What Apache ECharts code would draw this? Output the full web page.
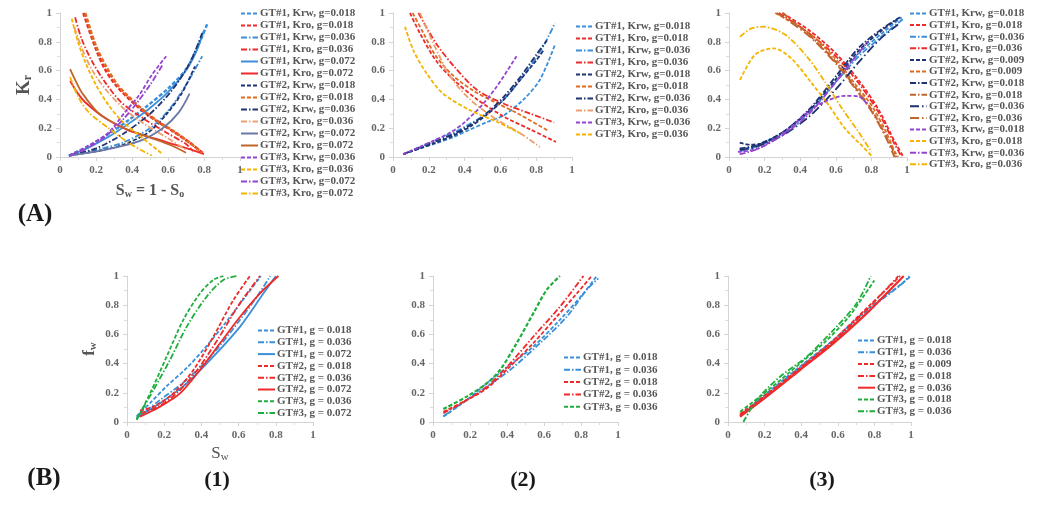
<!DOCTYPE html>
<html lang="en">
<head>
<meta charset="UTF-8">
<title>Kr and fw</title>
<script src="https://cdn.jsdelivr.net/npm/echarts@6.0.0/dist/echarts.min.js"></script>
<style>
  html, body { margin: 0; padding: 0; background: #fff; }
  #main { width: 1038px; height: 510px; }
</style>
</head>
<body>
<div id="main"></div>
<script>
// ---- data ----
var ticks = [0, 0.2, 0.4, 0.6, 0.8, 1];

// (A)(1) relative permeability, set 1
var a1Names = [
  'GT#1, Krw, g=0.018', 'GT#1, Kro, g=0.018', 'GT#1, Krw, g=0.036', 'GT#1, Kro, g=0.036',
  'GT#1, Krw, g=0.072', 'GT#1, Kro, g=0.072', 'GT#2, Krw, g=0.018', 'GT#2, Kro, g=0.018',
  'GT#2, Krw, g=0.036', 'GT#2, Kro, g=0.036', 'GT#2, Krw, g=0.072', 'GT#2, Kro, g=0.072',
  'GT#3, Krw, g=0.036', 'GT#3, Kro, g=0.036', 'GT#3, Krw, g=0.072', 'GT#3, Kro, g=0.072'
];
var a1Points = [
  [[0.05,0.01],[0.15,0.07],[0.27,0.16],[0.38,0.255],[0.49,0.36],[0.6,0.475],[0.7,0.61],[0.77,0.78],[0.82,0.93]],
  [[0.13,1.0],[0.2,0.75],[0.25,0.61],[0.31,0.5],[0.37,0.42],[0.44,0.34],[0.53,0.255],[0.62,0.185],[0.72,0.1],[0.8,0.02]],
  [[0.05,0.01],[0.2,0.05],[0.35,0.1],[0.5,0.2],[0.6,0.32],[0.7,0.5],[0.79,0.7]],
  [[0.084,0.97],[0.12,0.82],[0.18,0.66],[0.25,0.52],[0.34,0.38],[0.46,0.27],[0.59,0.17],[0.7,0.09],[0.74,0.04]],
  [[0.05,0.01],[0.15,0.06],[0.27,0.14],[0.38,0.23],[0.49,0.33],[0.6,0.45],[0.7,0.6],[0.76,0.74],[0.8,0.88]],
  [[0.056,0.53],[0.1,0.44],[0.14,0.38],[0.25,0.27],[0.38,0.185],[0.53,0.127],[0.68,0.07],[0.8,0.02]],
  [[0.05,0.01],[0.2,0.04],[0.34,0.08],[0.49,0.17],[0.6,0.31],[0.68,0.45],[0.75,0.63]],
  [[0.14,1.0],[0.2,0.77],[0.26,0.62],[0.32,0.5],[0.38,0.42],[0.45,0.34],[0.54,0.25],[0.63,0.18],[0.72,0.1],[0.79,0.03]],
  [[0.05,0.01],[0.2,0.06],[0.35,0.16],[0.5,0.3],[0.62,0.46],[0.72,0.65],[0.79,0.86]],
  [[0.08,0.9],[0.12,0.76],[0.18,0.6],[0.26,0.46],[0.36,0.33],[0.48,0.22],[0.6,0.13],[0.7,0.05]],
  [[0.05,0.01],[0.25,0.05],[0.44,0.11],[0.57,0.2],[0.66,0.31],[0.72,0.44]],
  [[0.056,0.61],[0.09,0.52],[0.12,0.45],[0.21,0.31],[0.34,0.21],[0.49,0.14],[0.62,0.08],[0.7,0.03]],
  [[0.05,0.01],[0.16,0.08],[0.27,0.17],[0.36,0.31],[0.44,0.43],[0.51,0.57],[0.59,0.7]],
  [[0.065,0.96],[0.1,0.8],[0.14,0.66],[0.2,0.5],[0.27,0.36],[0.34,0.255],[0.44,0.15],[0.51,0.08],[0.57,0.02]],
  [[0.05,0.01],[0.15,0.06],[0.25,0.14],[0.35,0.26],[0.43,0.38],[0.5,0.5],[0.57,0.64]],
  [[0.056,0.556],[0.1,0.42],[0.16,0.31],[0.27,0.2],[0.38,0.1],[0.47,0.035],[0.51,0.01]]
];

// (A)(2)
var a2Names = [
  'GT#1, Krw, g=0.018', 'GT#1, Kro, g=0.018', 'GT#1, Krw, g=0.036', 'GT#1, Kro, g=0.036',
  'GT#2, Krw, g=0.018', 'GT#2, Kro, g=0.018', 'GT#2, Krw, g=0.036', 'GT#2, Kro, g=0.036',
  'GT#3, Krw, g=0.036', 'GT#3, Kro, g=0.036'
];
var a2Points = [
  [[0.058,0.02],[0.15,0.06],[0.24,0.095],[0.34,0.14],[0.43,0.19],[0.52,0.24],[0.62,0.29],[0.73,0.4],[0.82,0.535],[0.905,0.78]],
  [[0.095,1.0],[0.15,0.86],[0.24,0.67],[0.34,0.535],[0.47,0.4],[0.62,0.28],[0.77,0.19],[0.91,0.105]],
  [[0.058,0.02],[0.15,0.07],[0.24,0.12],[0.34,0.17],[0.43,0.23],[0.52,0.3],[0.62,0.4],[0.75,0.6],[0.84,0.77],[0.905,0.93]],
  [[0.142,1.0],[0.24,0.79],[0.34,0.63],[0.47,0.465],[0.62,0.37],[0.77,0.3],[0.9,0.24]],
  [[0.058,0.02],[0.15,0.06],[0.24,0.1],[0.34,0.15],[0.43,0.21],[0.52,0.29],[0.62,0.4],[0.71,0.535],[0.8,0.67],[0.84,0.74]],
  [[0.11,1.0],[0.17,0.86],[0.24,0.7],[0.34,0.56],[0.45,0.46],[0.57,0.38],[0.7,0.3],[0.87,0.18]],
  [[0.058,0.02],[0.15,0.065],[0.24,0.11],[0.34,0.16],[0.43,0.22],[0.52,0.3],[0.62,0.42],[0.72,0.57],[0.8,0.71],[0.86,0.81]],
  [[0.151,1.0],[0.225,0.79],[0.32,0.56],[0.43,0.4],[0.58,0.26],[0.71,0.165],[0.82,0.07]],
  [[0.058,0.02],[0.15,0.07],[0.24,0.12],[0.32,0.17],[0.39,0.23],[0.45,0.3],[0.49,0.35],[0.58,0.49],[0.69,0.7]],
  [[0.067,0.905],[0.114,0.74],[0.188,0.58],[0.28,0.44],[0.43,0.325],[0.58,0.245],[0.71,0.165]]
];

// (A)(3)
var a3Names = [
  'GT#1, Krw, g=0.018', 'GT#1, Kro, g=0.018', 'GT#1, Krw, g=0.036', 'GT#1, Kro, g=0.036',
  'GT#2, Krw, g=0.009', 'GT#2, Kro, g=0.009', 'GT#2, Krw, g=0.018', 'GT#2, Kro, g=0.018',
  'GT#2, Krw, g=0.036', 'GT#2, Kro, g=0.036', 'GT#3, Krw, g=0.018', 'GT#3, Kro, g=0.018',
  'GT#3, Krw, g=0.036', 'GT#3, Kro, g=0.036'
];
var a3Points = [
  [[0.06,0.05],[0.15,0.08],[0.3,0.17],[0.45,0.32],[0.6,0.53],[0.73,0.72],[0.88,0.88],[0.97,0.97]],
  [[0.3,1.0],[0.45,0.88],[0.6,0.72],[0.73,0.53],[0.84,0.33],[0.93,0.11],[0.98,0.0]],
  [[0.06,0.04],[0.15,0.07],[0.3,0.16],[0.45,0.31],[0.6,0.52],[0.73,0.7],[0.88,0.86],[0.98,0.96]],
  [[0.28,1.0],[0.45,0.86],[0.6,0.7],[0.73,0.51],[0.84,0.31],[0.93,0.09],[0.97,0.0]],
  [[0.06,0.1],[0.12,0.085],[0.2,0.1],[0.3,0.17],[0.45,0.32],[0.6,0.54],[0.73,0.74],[0.86,0.88],[0.95,0.96]],
  [[0.26,1.0],[0.45,0.86],[0.6,0.68],[0.7,0.52],[0.8,0.36],[0.88,0.18],[0.93,0.04],[0.95,0.0]],
  [[0.06,0.06],[0.15,0.08],[0.3,0.17],[0.45,0.33],[0.6,0.56],[0.73,0.76],[0.86,0.89],[0.96,0.97]],
  [[0.3,1.0],[0.45,0.85],[0.6,0.66],[0.7,0.5],[0.8,0.33],[0.88,0.15],[0.94,0.0]],
  [[0.06,0.05],[0.15,0.07],[0.3,0.15],[0.45,0.28],[0.6,0.47],[0.73,0.66],[0.85,0.82],[0.95,0.92]],
  [[0.27,1.0],[0.45,0.84],[0.6,0.65],[0.7,0.49],[0.8,0.32],[0.88,0.14],[0.93,0.0]],
  [[0.05,0.035],[0.165,0.06],[0.315,0.175],[0.446,0.315],[0.54,0.385],[0.65,0.425],[0.73,0.42],[0.78,0.36]],
  [[0.062,0.535],[0.146,0.71],[0.25,0.755],[0.35,0.685],[0.46,0.52],[0.56,0.36],[0.65,0.2],[0.745,0.08],[0.8,0.01]],
  [[0.06,0.02],[0.15,0.05],[0.3,0.15],[0.45,0.3],[0.6,0.52],[0.7,0.68],[0.78,0.8]],
  [[0.062,0.835],[0.12,0.89],[0.19,0.905],[0.315,0.85],[0.446,0.685],[0.54,0.52],[0.633,0.34],[0.727,0.175],[0.8,0.035]]
];

// (B)(1) fractional flow
var b1Names = [
  'GT#1, g = 0.018', 'GT#1, g = 0.036', 'GT#1, g = 0.072', 'GT#2, g = 0.018',
  'GT#2, g = 0.036', 'GT#2, g = 0.072', 'GT#3, g = 0.036', 'GT#3, g = 0.072'
];
var b1Points = [
  [[0.052,0.04],[0.124,0.13],[0.213,0.245],[0.321,0.37],[0.428,0.52],[0.536,0.69],[0.643,0.87],[0.72,1.0]],
  [[0.052,0.03],[0.177,0.15],[0.321,0.29],[0.464,0.47],[0.608,0.7],[0.71,0.88],[0.77,1.0]],
  [[0.052,0.03],[0.177,0.128],[0.321,0.265],[0.464,0.447],[0.608,0.653],[0.733,0.88],[0.8,1.0]],
  [[0.07,0.08],[0.142,0.105],[0.249,0.196],[0.357,0.356],[0.464,0.584],[0.572,0.836],[0.661,1.0]],
  [[0.07,0.06],[0.16,0.1],[0.27,0.2],[0.38,0.36],[0.49,0.57],[0.6,0.8],[0.715,1.0]],
  [[0.07,0.037],[0.177,0.105],[0.285,0.196],[0.392,0.356],[0.5,0.539],[0.608,0.721],[0.715,0.881],[0.814,1.0]],
  [[0.052,0.014],[0.124,0.196],[0.213,0.447],[0.303,0.7],[0.392,0.88],[0.464,0.973],[0.518,1.0]],
  [[0.052,0.02],[0.142,0.219],[0.231,0.425],[0.321,0.653],[0.428,0.858],[0.518,0.973],[0.59,1.0]]
];

// (B)(2)
var b2Names = ['GT#1, g = 0.018', 'GT#1, g = 0.036', 'GT#2, g = 0.018', 'GT#2, g = 0.036', 'GT#3, g = 0.036'];
var b2Points = [
  [[0.056,0.037],[0.182,0.15],[0.29,0.265],[0.416,0.39],[0.542,0.516],[0.686,0.7],[0.813,0.88],[0.885,1.0]],
  [[0.056,0.04],[0.182,0.15],[0.29,0.24],[0.416,0.356],[0.578,0.539],[0.723,0.721],[0.83,0.904],[0.894,0.984]],
  [[0.056,0.07],[0.182,0.15],[0.29,0.23],[0.416,0.38],[0.542,0.54],[0.668,0.72],[0.777,0.88],[0.858,1.0]],
  [[0.056,0.06],[0.182,0.15],[0.29,0.24],[0.416,0.4],[0.542,0.584],[0.686,0.79],[0.813,1.0]],
  [[0.056,0.089],[0.182,0.174],[0.29,0.265],[0.362,0.356],[0.452,0.539],[0.542,0.744],[0.614,0.904],[0.686,1.0]]
];

// (B)(3)
var b3Names = [
  'GT#1, g = 0.018', 'GT#1, g = 0.036', 'GT#2, g = 0.009', 'GT#2, g = 0.018',
  'GT#2, g = 0.036', 'GT#3, g = 0.018', 'GT#3, g = 0.036'
];
var b3Points = [
  [[0.066,0.037],[0.211,0.196],[0.393,0.379],[0.576,0.562],[0.758,0.767],[0.94,0.938],[1.0,1.0]],
  [[0.066,0.04],[0.211,0.19],[0.393,0.375],[0.576,0.555],[0.758,0.76],[0.94,0.935],[0.99,1.0]],
  [[0.066,0.055],[0.211,0.19],[0.393,0.37],[0.576,0.56],[0.758,0.78],[0.9,0.95],[0.94,1.0]],
  [[0.066,0.05],[0.211,0.18],[0.393,0.36],[0.576,0.55],[0.758,0.77],[0.88,0.93],[0.93,1.0]],
  [[0.066,0.037],[0.211,0.174],[0.393,0.356],[0.576,0.539],[0.758,0.744],[0.885,0.904],[0.96,1.0]],
  [[0.066,0.07],[0.211,0.21],[0.393,0.4],[0.54,0.56],[0.66,0.72],[0.74,0.86],[0.8,0.97]],
  [[0.084,0.0],[0.157,0.151],[0.284,0.31],[0.43,0.447],[0.576,0.63],[0.703,0.813],[0.78,1.0]]
];

// ---- styles ----
var C = {
  blue: '#3a8fd9', red: '#ee2a2a', navy: '#1f3372', orange: '#e06a22', peach: '#eba070',
  brown: '#c0652c', slate: '#6a78a8', purple: '#9444d0', yellow: '#f5b400', green: '#1fae3e'
};
var DASH = [4, 2], DOT = [6, 2, 1.5, 2], LONG = [9, 3, 1.5, 3], SOLID = 'solid';

var a1Styles = [
  [C.blue, DASH, 2.4], [C.red, DASH, 2.6], [C.blue, DOT, 1.8], [C.red, DOT, 1.8],
  [C.blue, SOLID, 1.8], [C.red, SOLID, 1.8], [C.navy, DASH, 1.8], [C.orange, DASH, 2.6],
  [C.navy, DOT, 1.8], [C.peach, DOT, 1.8], [C.slate, SOLID, 1.8], [C.brown, SOLID, 1.8],
  [C.purple, DASH, 1.8], [C.yellow, DASH, 1.8], [C.purple, DOT, 1.8], [C.yellow, DOT, 1.8]
];
var a2Styles = [
  [C.blue, DASH, 1.8], [C.red, DASH, 1.8], [C.blue, DOT, 1.8], [C.red, DOT, 1.8],
  [C.navy, DASH, 1.8], [C.orange, DASH, 1.8], [C.navy, DOT, 1.8], [C.peach, DOT, 1.8],
  [C.purple, DASH, 1.8], [C.yellow, DASH, 1.8]
];
var a3Styles = [
  [C.blue, DASH, 1.8], [C.red, DASH, 1.8], [C.blue, DOT, 1.8], [C.red, DOT, 1.8],
  [C.navy, DASH, 1.8], [C.orange, DASH, 1.8], [C.navy, DOT, 1.8], [C.brown, DOT, 2],
  [C.navy, LONG, 1.8], [C.brown, LONG, 2], [C.purple, DASH, 1.8], [C.yellow, DASH, 1.8],
  [C.purple, DOT, 1.8], [C.yellow, DOT, 1.8]
];
var b1Styles = [
  [C.blue, DASH, 1.8], [C.blue, DOT, 1.8], [C.blue, SOLID, 1.8], [C.red, DASH, 1.8],
  [C.red, DOT, 1.8], [C.red, SOLID, 1.8], [C.green, DASH, 1.8], [C.green, DOT, 1.8]
];
var b2Styles = [
  [C.blue, DASH, 1.8], [C.blue, DOT, 1.8], [C.red, DASH, 1.8], [C.red, DOT, 1.8], [C.green, DASH, 2.2]
];
var b3Styles = [
  [C.blue, DASH, 1.8], [C.blue, DOT, 1.8], [C.red, DASH, 1.8], [C.red, DOT, 1.8],
  [C.red, SOLID, 2.2], [C.green, DASH, 1.8], [C.green, DOT, 1.8]
];

var SERIF = '"Liberation Serif", "DejaVu Serif", serif';
var GREY = '#666';

var panels = [
  { names: a1Names, points: a1Points, styles: a1Styles,
    grid: { left: 60, top: 13, width: 180, height: 144 }, legend: { left: 240, top: 8, gap: 1 } },
  { names: a2Names, points: a2Points, styles: a2Styles,
    grid: { left: 393, top: 13, width: 179, height: 144 }, legend: { left: 575, top: 21, gap: 1 } },
  { names: a3Names, points: a3Points, styles: a3Styles,
    grid: { left: 729, top: 13, width: 178, height: 144 }, legend: { left: 909, top: 8, gap: 0.6 } },
  { names: b1Names, points: b1Points, styles: b1Styles,
    grid: { left: 127, top: 276, width: 186, height: 146 }, legend: { left: 257, top: 325, gap: 0.8 } },
  { names: b2Names, points: b2Points, styles: b2Styles,
    grid: { left: 433, top: 276, width: 185, height: 146 }, legend: { left: 563, top: 352, gap: 1.3 } },
  { names: b3Names, points: b3Points, styles: b3Styles,
    grid: { left: 728, top: 276, width: 183, height: 146 }, legend: { left: 857, top: 335, gap: 0.8 } }
];

function axis(extra) {
  var a = {
    type: 'value', min: 0, max: 1, interval: 0.2,
    axisLine: { show: true, lineStyle: { color: '#d4d4d4', width: 1 } },
    axisTick: { show: true, length: 4, lineStyle: { color: '#d4d4d4' } },
    minorTick: { show: true, splitNumber: 2, length: 3, lineStyle: { color: '#dcdcdc' } },
    splitLine: { show: false },
    axisLabel: {
      fontFamily: SERIF, fontWeight: 'bold', fontSize: 11, color: GREY,
      formatter: function (v) { return ticks.indexOf(v) >= 0 ? String(v) : ''; }
    }
  };
  for (var k in extra) a[k] = extra[k];
  return a;
}

var grids = [], xAxes = [], yAxes = [], series = [], legends = [];
panels.forEach(function (p, i) {
  grids.push({ left: p.grid.left, top: p.grid.top, width: p.grid.width, height: p.grid.height, containLabel: false });
  xAxes.push(axis({ gridIndex: i }));
  yAxes.push(axis({ gridIndex: i }));
  var keys = [];
  p.names.forEach(function (n, j) {
    var s = p.styles[j];
    var key = 'p' + i + '|' + n;
    keys.push(key);
    series.push({
      type: 'line', name: key, xAxisIndex: i, yAxisIndex: i,
      data: p.points[j], smooth: 0.3, symbol: 'none', showSymbol: false,
      clip: true, animation: false,
      lineStyle: { color: s[0], type: s[1], width: s[2] },
      itemStyle: { color: s[0] }
    });
  });
  legends.push({
    data: keys, orient: 'vertical', left: p.legend.left, top: p.legend.top,
    padding: 0, itemGap: p.legend.gap, itemWidth: 17, itemHeight: 8,
    selectedMode: false,
    itemStyle: { opacity: 0 },
    lineStyle: { width: 2 },
    formatter: function (n) { return n.split('|')[1]; },
    textStyle: { fontFamily: SERIF, fontWeight: 'bold', fontSize: 11, color: '#555', padding: [0, 0, 0, -3] }
  });
});

// axis titles
var nameRich = {
  b: { fontFamily: SERIF, fontWeight: 'bold', fontSize: 19, color: '#555' },
  s: { fontFamily: SERIF, fontWeight: 'bold', fontSize: 12, color: '#555', verticalAlign: 'bottom', padding: [8, 0, 0, 0] }
};
yAxes[0].name = '{b|K}{s|r}';
yAxes[0].nameLocation = 'middle';
yAxes[0].nameGap = 26;
yAxes[0].nameRotate = 90;
yAxes[0].nameTextStyle = { rich: nameRich };
xAxes[0].name = '{b|S}{s|w}{b| = 1 - S}{s|o}';
xAxes[0].nameLocation = 'middle';
xAxes[0].nameGap = 25;
xAxes[0].nameTextStyle = { rich: { b: { fontFamily: SERIF, fontWeight: 'bold', fontSize: 16, color: '#555' },
  s: { fontFamily: SERIF, fontWeight: 'bold', fontSize: 10, color: '#555', verticalAlign: 'bottom', padding: [7, 0, 0, 0] } } };
yAxes[3].name = '{b|f}{s|w}';
yAxes[3].nameLocation = 'middle';
yAxes[3].nameGap = 28;
yAxes[3].nameRotate = 90;
yAxes[3].nameTextStyle = { rich: { b: { fontFamily: SERIF, fontWeight: 'bold', fontSize: 17, color: '#555' },
  s: { fontFamily: SERIF, fontWeight: 'bold', fontSize: 11, color: '#555', verticalAlign: 'bottom', padding: [7, 0, 0, 0] } } };
xAxes[3].name = '{b|S}{s|w}';
xAxes[3].nameLocation = 'middle';
xAxes[3].nameGap = 23;
xAxes[3].nameTextStyle = { rich: { b: { fontFamily: SERIF, fontSize: 17, color: '#555' },
  s: { fontFamily: SERIF, fontSize: 11, color: '#555', verticalAlign: 'bottom', padding: [7, 0, 0, 0] } } };

function label(txt, x, y, size) {
  return { type: 'text', x: x, y: y, silent: true,
    style: { text: txt, fill: '#1a1a1a', fontFamily: SERIF, fontWeight: 'bold', fontSize: size,
      align: 'center', verticalAlign: 'middle' } };
}

var chart = echarts.init(document.getElementById('main'));
chart.setOption({
  backgroundColor: '#fff',
  animation: false,
  grid: grids,
  xAxis: xAxes,
  yAxis: yAxes,
  legend: legends,
  series: series,
  graphic: [
    label('(A)', 35, 215, 25),
    label('(B)', 44, 479, 25),
    label('(1)', 217, 480, 22),
    label('(2)', 523, 480, 22),
    label('(3)', 822, 480, 22)
  ]
});
</script>
</body>
</html>
